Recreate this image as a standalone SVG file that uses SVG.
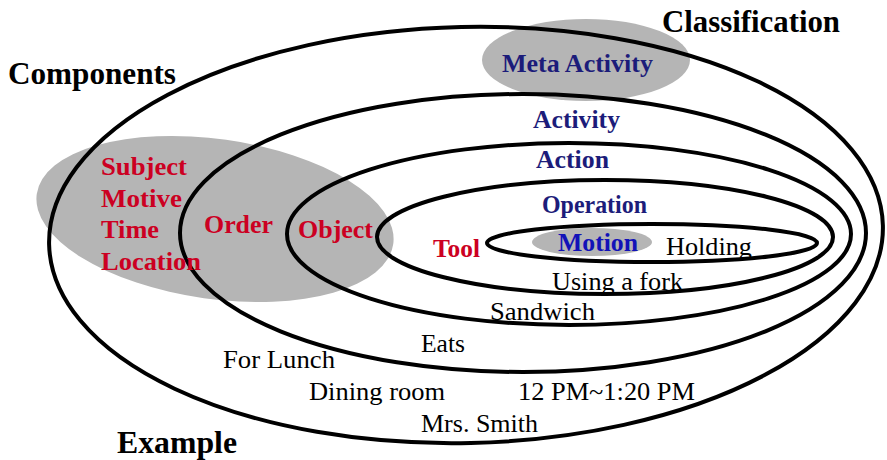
<svg xmlns="http://www.w3.org/2000/svg" width="887" height="460" viewBox="0 0 887 460">
<style>
.shade{fill:#b5b5b5;stroke:none}
.ring{fill:none;stroke:#000;stroke-width:4}
</style>
<rect x="0" y="0" width="887" height="460" fill="#ffffff"/>
<g id="shades">
<ellipse id="components-area" class="shade" cx="215" cy="219" rx="180" ry="80" transform="rotate(8 215 219)"/>
<ellipse id="meta-area" class="shade" cx="586" cy="60" rx="104" ry="41"/>
<ellipse id="motion-area" class="shade" cx="592" cy="242" rx="60" ry="14"/>
</g>
<g id="connectors">
<ellipse id="ring-meta" class="ring" cx="466" cy="235" rx="417" ry="208" transform="rotate(-1.3 466 235)"/>
<ellipse id="ring-activity" class="ring" cx="523" cy="233" rx="343" ry="139"/>
<ellipse id="ring-action" class="ring" cx="569" cy="234" rx="282" ry="91"/>
<ellipse id="ring-operation" class="ring" cx="605" cy="237" rx="228" ry="57"/>
<ellipse id="ring-motion" class="ring" cx="652" cy="243" rx="165" ry="19"/>
</g>
<g id="titles" font-family="Liberation Serif" font-weight="bold" font-size="31" fill="#000">
<text x="8" y="84" font-family="Liberation Serif" textLength="168" lengthAdjust="spacingAndGlyphs">Components</text>
<text x="662" y="32" font-family="Liberation Serif" textLength="178" lengthAdjust="spacingAndGlyphs">Classification</text>
<text x="117" y="453" font-family="Liberation Serif" textLength="120" lengthAdjust="spacingAndGlyphs">Example</text>
</g>
<g id="classification" font-family="Liberation Serif" font-weight="bold" font-size="26" fill="#1c1c7a">
<text x="502" y="72" font-family="Liberation Serif" textLength="151" lengthAdjust="spacingAndGlyphs">Meta Activity</text>
<text x="533" y="128" font-family="Liberation Serif" textLength="87" lengthAdjust="spacingAndGlyphs">Activity</text>
<text x="536" y="168" font-family="Liberation Serif" textLength="73" lengthAdjust="spacingAndGlyphs">Action</text>
<text x="542" y="213" font-family="Liberation Serif" textLength="105" lengthAdjust="spacingAndGlyphs">Operation</text>
<text x="558" y="251" font-family="Liberation Serif" fill="#1212b8" textLength="80" lengthAdjust="spacingAndGlyphs">Motion</text>
</g>
<g id="components" font-family="Liberation Serif" font-weight="bold" font-size="26" fill="#cc0022">
<text x="101" y="175" font-family="Liberation Serif" textLength="86" lengthAdjust="spacingAndGlyphs">Subject</text>
<text x="101" y="207" font-family="Liberation Serif" textLength="81" lengthAdjust="spacingAndGlyphs">Motive</text>
<text x="101" y="238" font-family="Liberation Serif" textLength="58" lengthAdjust="spacingAndGlyphs">Time</text>
<text x="101" y="270" font-family="Liberation Serif" textLength="100" lengthAdjust="spacingAndGlyphs">Location</text>
<text x="204" y="233" font-family="Liberation Serif" textLength="69" lengthAdjust="spacingAndGlyphs">Order</text>
<text x="298" y="238" font-family="Liberation Serif" textLength="75" lengthAdjust="spacingAndGlyphs">Object</text>
<text x="433" y="257" font-family="Liberation Serif" textLength="47" lengthAdjust="spacingAndGlyphs">Tool</text>
</g>
<g id="example" font-family="Liberation Serif" font-size="26" fill="#000">
<text x="666" y="255" font-family="Liberation Serif" textLength="86" lengthAdjust="spacingAndGlyphs">Holding</text>
<text x="552" y="290" font-family="Liberation Serif" textLength="131" lengthAdjust="spacingAndGlyphs">Using a fork</text>
<text x="490" y="320" font-family="Liberation Serif" textLength="105" lengthAdjust="spacingAndGlyphs">Sandwich</text>
<text x="421" y="352" font-family="Liberation Serif" textLength="44" lengthAdjust="spacingAndGlyphs">Eats</text>
<text x="223" y="368" font-family="Liberation Serif" textLength="112" lengthAdjust="spacingAndGlyphs">For Lunch</text>
<text x="309" y="400" font-family="Liberation Serif" textLength="136" lengthAdjust="spacingAndGlyphs">Dining room</text>
<text x="518" y="400" font-family="Liberation Serif" textLength="177" lengthAdjust="spacingAndGlyphs">12 PM~1:20 PM</text>
<text x="421" y="432" font-family="Liberation Serif" textLength="117" lengthAdjust="spacingAndGlyphs">Mrs. Smith</text>
</g>
</svg>
